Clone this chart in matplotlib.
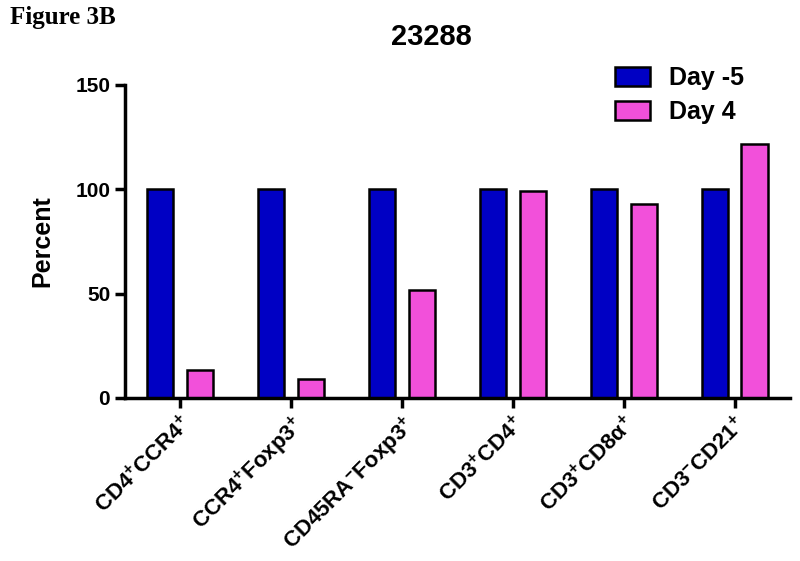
import matplotlib.pyplot as plt
import matplotlib.transforms as mtransforms
import numpy as np

plt.rcParams["font.family"] = ["Liberation Sans", "DejaVu Sans"]
plt.rcParams["font.weight"] = "bold"
plt.rcParams["axes.labelweight"] = "bold"
plt.rcParams["mathtext.fontset"] = "custom"
plt.rcParams["mathtext.rm"] = "Liberation Sans:bold"
plt.rcParams["mathtext.it"] = "Liberation Sans:bold"
plt.rcParams["mathtext.bf"] = "Liberation Sans:bold"

categories = [
    r"CD4$^{+}$CCR4$^{+}$",
    r"CCR4$^{+}$Foxp3$^{+}$",
    r"CD45RA$^{-}$Foxp3$^{+}$",
    r"CD3$^{+}$CD4$^{+}$",
    r"CD3$^{+}$CD8$\alpha^{+}$",
    r"CD3$^{-}$CD21$^{+}$",
]
day_minus5 = [100, 100, 100, 100, 100, 100]
day_4 = [13.5, 9, 51.5, 99, 93, 121.5]

blue = "#0000C4"
pink = "#F250DA"

fig = plt.figure(figsize=(8, 5.61), dpi=100)
ax = fig.add_axes([0.156, 0.2906, 0.8315, 0.558])

x = np.arange(len(categories))
w = 0.235
ax.bar(x - 0.18, day_minus5, w, color=blue, edgecolor="black", linewidth=1.8, label="Day -5")
ax.bar(x + 0.18, day_4, w, color=pink, edgecolor="black", linewidth=1.8, label="Day 4")

ax.set_xlim(-0.5, len(categories) - 0.5)
ax.set_ylim(0, 150)
ax.set_yticks([0, 50, 100, 150])
ax.set_xticks(x)
ax.set_xticklabels(categories, rotation=45, ha="right", rotation_mode="anchor", fontsize=16)
# nudge the tilted labels a little to the left, as in the reference
shift = mtransforms.ScaledTranslation(-5 / 100, 0, fig.dpi_scale_trans)
for lbl in ax.get_xticklabels():
    lbl.set_transform(lbl.get_transform() + shift)
ax.tick_params(axis="y", labelsize=15, width=2.5, length=7)
ax.tick_params(axis="x", width=2.5, length=7)
for s in ["top", "right"]:
    ax.spines[s].set_visible(False)
for s in ["left", "bottom"]:
    ax.spines[s].set_linewidth(2.5)
ax.set_ylabel("Percent", fontsize=18, labelpad=15)

fig.legend(loc="upper left", bbox_to_anchor=(615 / 800, 1 - 66 / 561), frameon=False,
           fontsize=18, borderpad=0, borderaxespad=0,
           handlelength=1.4, handleheight=0.8, labelspacing=0.4, handletextpad=0.76)

fig.text(0.539, 0.934, "23288", ha="center", va="center", fontsize=21)
fig.text(0.012, 0.968, "Figure 3B", ha="left", va="center", fontsize=18,
         family="Liberation Serif", weight="bold")

fig.savefig("out.png", dpi=100)
